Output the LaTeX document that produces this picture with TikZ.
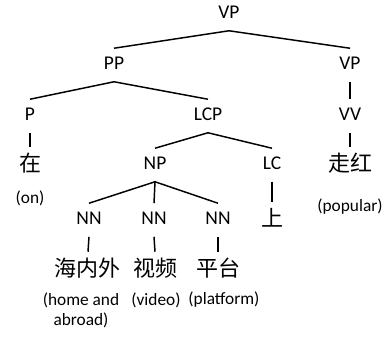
\documentclass[tikz,border=0pt]{standalone}
\usepackage{fontspec}
\setmainfont{Carlito}
\newfontfamily\cjk{Noto Sans CJK SC}
\begin{document}
\begin{tikzpicture}[x=0.75pt,y=-0.75pt,
  cat/.style={font=\fontsize{14.6pt}{17pt}\selectfont, text height=0.63em, text depth=0pt, minimum height=24.75pt, inner sep=0pt},
  word/.style={font=\cjk\fontsize{16.5pt}{18pt}\selectfont, text height=0.8em, text depth=0.08em, minimum height=30pt, inner sep=0pt},
  gloss/.style={font=\fontsize{13pt}{15pt}\selectfont, align=center, inner sep=0pt},
  edge/.style={line width=1.1pt}]
\useasboundingbox (0,0) rectangle (386,336);
% categories
\node[cat] (vp) at (229,14) {VP};
\node[cat] (pp) at (114,65) {PP};
\node[cat] (vp2) at (350,65) {VP};
\node[cat] (p) at (30,116) {P};
\node[cat] (lcp) at (208,116) {LCP};
\node[cat] (vv) at (350,116) {VV};
\node[cat] (np) at (155,165) {NP};
\node[cat] (lc) at (272,165) {LC};
\node[cat] (nn1) at (89,220) {NN};
\node[cat] (nn2) at (154,220) {NN};
\node[cat] (nn3) at (218,220) {NN};
% words
\node[word] (zai) at (30,167) {在};
\node[word] (zouhong) at (350,167) {走红};
\node[word] (shang) at (272,222) {上};
\node[word] (haineiwai) at (88,272) {海内外};
\node[word] (shipin) at (155,272) {视频};
\node[word] (pingtai) at (218,272) {平台};
% glosses
\node[gloss] (g-on) at (30,198) {(on)};
\node[gloss] (g-pop) at (350,207) {(popular)};
\node[gloss] (g-home) at (81,310) {(home and\\abroad)};
\node[gloss] (g-video) at (156,300) {(video)};
\node[gloss] (g-plat) at (224,300) {(platform)};
% edges
\draw[edge] (vp.south) -- (pp.north);
\draw[edge] (vp.south) -- (vp2.north);
\draw[edge] (pp.south) -- (p.north);
\draw[edge] (pp.south) -- (lcp.north);
\draw[edge] (vp2.south) -- (vv.north);
\draw[edge] (p.south) -- (zai.north);
\draw[edge] (vv.south) -- (zouhong.north);
\draw[edge] (lcp.south) -- (np.north);
\draw[edge] (lcp.south) -- (lc.north);
\draw[edge] (np.south) -- (nn1.north);
\draw[edge] (np.south) -- (nn2.north);
\draw[edge] (np.south) -- (nn3.north);
\draw[edge] (lc.south) -- (shang.north);
\draw[edge] (nn1.south) -- (haineiwai.north);
\draw[edge] (nn2.south) -- (shipin.north);
\draw[edge] (nn3.south) -- (pingtai.north);
\end{tikzpicture}
\end{document}
